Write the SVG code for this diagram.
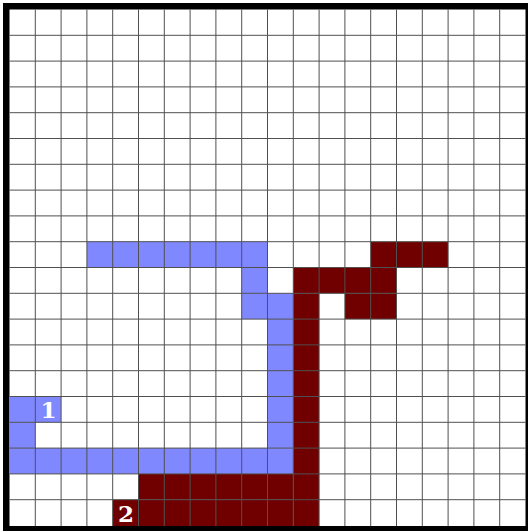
<svg xmlns="http://www.w3.org/2000/svg" width="528" height="531" viewBox="0 0 528 531">
<style>
.blue{fill:#8088ff}
.red{fill:#700000}
.grid{fill:none;stroke:#505050;stroke-width:1}
.lbl{font-family:"DejaVu Serif","Liberation Serif",serif;font-weight:bold;font-size:23px;fill:#ffffff;text-anchor:middle}
</style>
<rect x="3" y="3" width="528" height="531" fill="#000"/>
<rect x="9.5" y="9.5" width="516" height="516.5" fill="#fff"/>
<g id="path1">
<rect class="blue" x="86.9" y="241.7" width="180.6" height="25.8"/>
<rect class="blue" x="241.7" y="267.5" width="25.8" height="25.8"/>
<rect class="blue" x="241.7" y="293.3" width="51.6" height="25.8"/>
<rect class="blue" x="267.5" y="319.1" width="25.8" height="129"/>
<rect class="blue" x="9.5" y="448.1" width="283.8" height="25.8"/>
<rect class="blue" x="9.5" y="396.5" width="51.6" height="25.8"/>
<rect class="blue" x="9.5" y="422.3" width="25.8" height="25.8"/>
</g>
<g id="path2">
<rect class="red" x="370.7" y="241.7" width="77.4" height="25.8"/>
<rect class="red" x="293.3" y="267.5" width="103.2" height="25.8"/>
<rect class="red" x="344.9" y="293.3" width="51.6" height="25.8"/>
<rect class="red" x="293.3" y="293.3" width="25.8" height="232.7"/>
<rect class="red" x="138.5" y="473.9" width="154.8" height="25.8"/>
<rect class="red" x="112.7" y="499.7" width="180.6" height="26.3"/>
</g>
<g id="grid">
<path class="grid" d="M35.3 9.5V526M61.1 9.5V526M86.9 9.5V526M112.7 9.5V526M138.5 9.5V526M164.3 9.5V526M190.1 9.5V526M215.9 9.5V526M241.7 9.5V526M267.5 9.5V526M293.3 9.5V526M319.1 9.5V526M344.9 9.5V526M370.7 9.5V526M396.5 9.5V526M422.3 9.5V526M448.1 9.5V526M473.9 9.5V526M499.7 9.5V526M9.5 35.3H525.5M9.5 61.1H525.5M9.5 86.9H525.5M9.5 112.7H525.5M9.5 138.5H525.5M9.5 164.3H525.5M9.5 190.1H525.5M9.5 215.9H525.5M9.5 241.7H525.5M9.5 267.5H525.5M9.5 293.3H525.5M9.5 319.1H525.5M9.5 344.9H525.5M9.5 370.7H525.5M9.5 396.5H525.5M9.5 422.3H525.5M9.5 448.1H525.5M9.5 473.9H525.5M9.5 499.7H525.5"/>
</g>
<g id="labels">
<text class="lbl" x="48.4" y="418">1</text>
<text class="lbl" x="126" y="522">2</text>
</g>
</svg>
